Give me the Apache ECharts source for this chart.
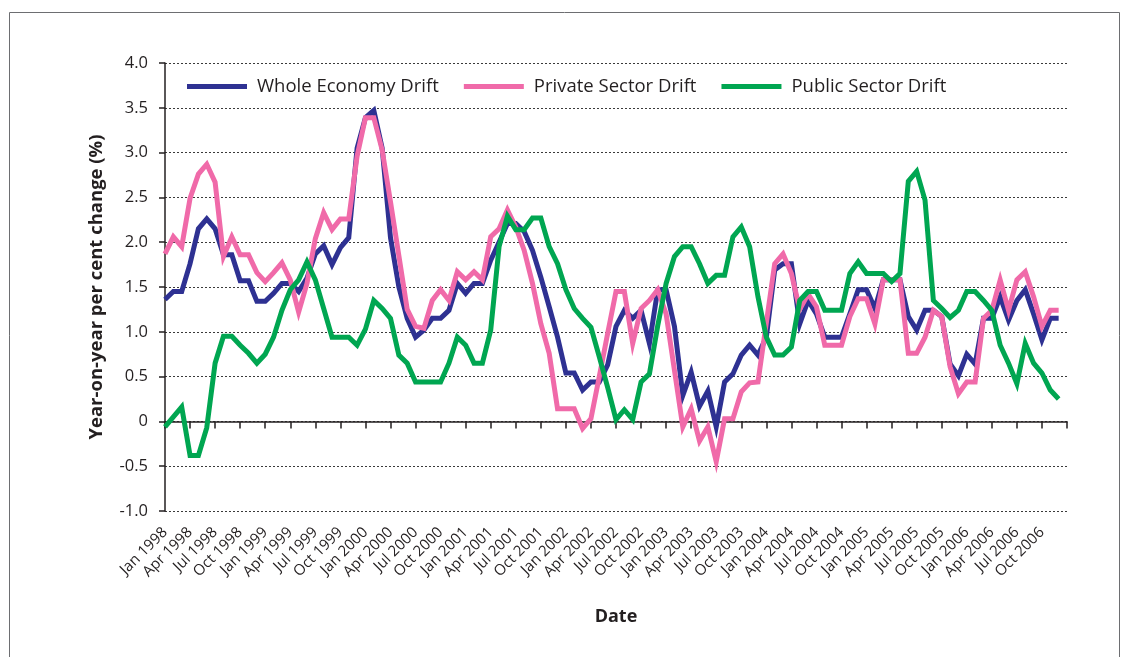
<!DOCTYPE html>
<html>
<head>
<meta charset="utf-8">
<script src="https://cdn.jsdelivr.net/npm/echarts@6/dist/echarts.min.js"></script>
<style>
  html, body { margin: 0; padding: 0; background: #ffffff; }
  #chart { width: 1130px; height: 657px; }
</style>
</head>
<body>
<div id="chart"></div>
<script>
// Monthly earnings drift, Jan 1998 – Dec 2006 (year-on-year % change)
const monthNames = ['Jan', 'Feb', 'Mar', 'Apr', 'May', 'Jun', 'Jul', 'Aug', 'Sep', 'Oct', 'Nov', 'Dec'];
const years = [1998, 1999, 2000, 2001, 2002, 2003, 2004, 2005, 2006];

const categories = [];
years.forEach(y => monthNames.forEach(m => categories.push(m + ' ' + y)));
categories.push(''); // closing slot so the axis runs to the end of Dec 2006

const wholeEconomy = [
  1.36, 1.45, 1.45, 1.76, 2.15, 2.26, 2.15, 1.86, 1.86, 1.57, 1.57, 1.34,
  1.34, 1.43, 1.54, 1.54, 1.45, 1.60, 1.87, 1.96, 1.75, 1.94, 2.05, 3.05,
  3.39, 3.47, 3.05, 2.05, 1.50, 1.15, 0.94, 1.02, 1.15, 1.15, 1.24, 1.54,
  1.43, 1.54, 1.54, 1.80, 2.00, 2.21, 2.21, 2.12, 1.91, 1.61, 1.28, 0.94,
  0.54, 0.54, 0.35, 0.44, 0.44, 0.63, 1.06, 1.24, 1.15, 1.24, 0.87, 1.47,
  1.47, 1.06, 0.29, 0.55, 0.17, 0.34, -0.06, 0.44, 0.53, 0.74, 0.85, 0.74,
  0.94, 1.69, 1.76, 1.76, 1.09, 1.35, 1.20, 0.94, 0.94, 0.94, 1.20, 1.47,
  1.47, 1.26, 1.58, 1.58, 1.58, 1.17, 1.02, 1.24, 1.24, 1.17, 0.64, 0.51,
  0.75, 0.64, 1.15, 1.15, 1.39, 1.13, 1.35, 1.47, 1.20, 0.91, 1.15, 1.15
];

const privateSector = [
  1.87, 2.06, 1.95, 2.49, 2.76, 2.87, 2.67, 1.84, 2.06, 1.86, 1.86, 1.66,
  1.56, 1.66, 1.77, 1.58, 1.22, 1.54, 2.04, 2.33, 2.14, 2.26, 2.26, 2.96,
  3.39, 3.39, 3.03, 2.45, 1.85, 1.25, 1.06, 1.04, 1.35, 1.47, 1.35, 1.67,
  1.58, 1.67, 1.58, 2.06, 2.15, 2.36, 2.17, 1.91, 1.54, 1.09, 0.76, 0.14,
  0.14, 0.14, -0.08, 0.03, 0.50, 0.98, 1.45, 1.45, 0.87, 1.26, 1.35, 1.47,
  1.20, 0.57, -0.06, 0.14, -0.22, -0.06, -0.45, 0.03, 0.03, 0.33, 0.43, 0.44,
  1.10, 1.76, 1.87, 1.65, 1.25, 1.42, 1.28, 0.85, 0.85, 0.85, 1.17, 1.37,
  1.37, 1.09, 1.58, 1.58, 1.58, 0.76, 0.76, 0.94, 1.24, 1.17, 0.61, 0.31,
  0.44, 0.44, 1.15, 1.24, 1.58, 1.24, 1.58, 1.67, 1.39, 1.06, 1.24, 1.24
];

const publicSector = [
  -0.06, 0.05, 0.16, -0.38, -0.38, -0.07, 0.65, 0.95, 0.95, 0.85, 0.76, 0.65,
  0.75, 0.94, 1.24, 1.47, 1.58, 1.78, 1.58, 1.26, 0.94, 0.94, 0.94, 0.85,
  1.03, 1.35, 1.26, 1.15, 0.74, 0.65, 0.44, 0.44, 0.44, 0.44, 0.65, 0.94,
  0.85, 0.65, 0.65, 1.02, 1.95, 2.29, 2.14, 2.14, 2.27, 2.27, 1.95, 1.76,
  1.47, 1.26, 1.15, 1.05, 0.72, 0.38, 0.02, 0.13, 0.02, 0.44, 0.53, 1.07,
  1.54, 1.84, 1.95, 1.95, 1.76, 1.54, 1.63, 1.63, 2.06, 2.17, 1.95, 1.39,
  0.94, 0.74, 0.74, 0.83, 1.35, 1.45, 1.45, 1.24, 1.24, 1.24, 1.65, 1.78,
  1.65, 1.65, 1.65, 1.56, 1.65, 2.68, 2.79, 2.47, 1.35, 1.26, 1.16, 1.24,
  1.45, 1.45, 1.35, 1.24, 0.85, 0.65, 0.42, 0.87, 0.65, 0.54, 0.35, 0.25
];

const seriesNames = ['Whole Economy Drift', 'Private Sector Drift', 'Public Sector Drift'];
const seriesColors = ['#2E3192', '#F06AA9', '#00A651'];

const FONT = '"Open Sans", "Noto Sans", sans-serif';
const TEXT = '#231F20';

const chart = echarts.init(document.getElementById('chart'), null, { renderer: 'canvas' });

chart.setOption({
  animation: false,
  backgroundColor: '#ffffff',
  textStyle: { fontFamily: FONT, color: TEXT },
  graphic: [{
    type: 'rect',
    shape: { x: 9.5, y: 12.5, width: 1110, height: 700 },
    style: { fill: 'none', stroke: '#6d6e71', lineWidth: 1 },
    silent: true,
    z: -1
  }],
  grid: { left: 165, right: 63, top: 63, bottom: 146, containLabel: false },
  legend: {
    left: 187,
    top: 77,
    padding: 0,
    itemWidth: 60,
    itemHeight: 5,
    itemGap: 25,
    icon: 'rect',
    data: seriesNames,
    textStyle: { fontFamily: FONT, fontSize: 18.5, color: TEXT, padding: [0, 0, 0, 5] }
  },
  xAxis: [{
    type: 'category',
    data: categories,
    boundaryGap: false,
    axisLine: { onZero: true, lineStyle: { color: TEXT, width: 1.5 } },
    axisTick: { show: true, interval: 2, length: 7, lineStyle: { color: TEXT, width: 1.5 } },
    axisLabel: { show: false },
    splitLine: { show: false }
  }, {
    type: 'category',
    data: categories,
    boundaryGap: false,
    position: 'bottom',
    axisLine: { show: false, onZero: false },
    axisTick: { show: false },
    axisLabel: {
      interval: 2,
      rotate: 45,
      margin: 19,
      fontFamily: FONT,
      fontSize: 15,
      color: TEXT
    },
    name: 'Date',
    nameLocation: 'middle',
    nameGap: 97,
    nameTextStyle: { fontFamily: FONT, fontSize: 18, fontWeight: 'bold', color: TEXT }
  }],
  yAxis: {
    type: 'value',
    min: -1,
    max: 4,
    interval: 0.5,
    axisLine: { show: true, lineStyle: { color: TEXT, width: 1.5 } },
    axisTick: { show: true, length: 6, lineStyle: { color: TEXT, width: 1.5 } },
    axisLabel: {
      margin: 17,
      fontFamily: FONT,
      fontSize: 16.5,
      color: TEXT,
      formatter: v => (v === 0 ? '0' : v.toFixed(1))
    },
    splitLine: { show: true, lineStyle: { color: '#3a3a3a', width: 1, type: [2, 2] } },
    name: 'Year-on-year per cent change (%)',
    nameLocation: 'middle',
    nameGap: 59,
    nameTextStyle: { fontFamily: FONT, fontSize: 18.5, fontWeight: 'bold', color: TEXT }
  },
  series: [wholeEconomy, privateSector, publicSector].map((values, k) => ({
    name: seriesNames[k],
    type: 'line',
    xAxisIndex: 0,
    data: values,
    symbol: 'none',
    smooth: false,
    color: seriesColors[k],
    lineStyle: { width: 5, color: seriesColors[k], join: 'miter', cap: 'butt' },
    z: 2 + k
  }))
});
</script>
</body>
</html>
